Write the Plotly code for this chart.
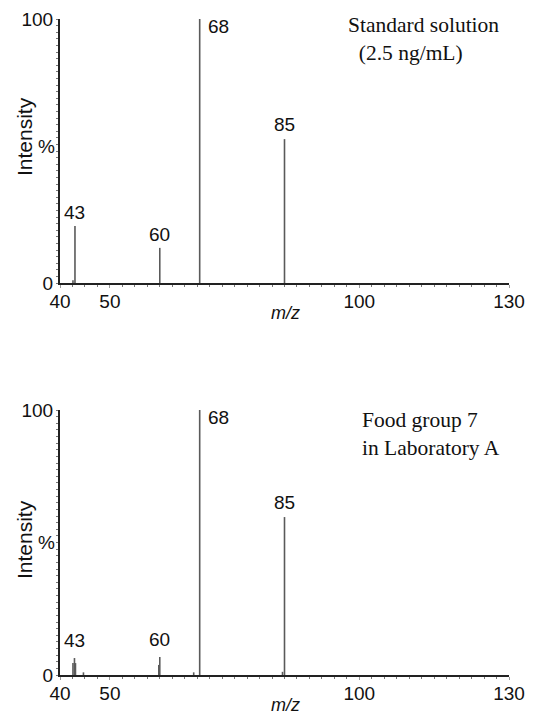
import plotly.graph_objects as go

# ---- data ----
mz_std = [42.6, 43, 60, 68, 85]
int_std = [1.0, 21.6, 13.3, 100, 54.5]

mz_food = [42.6, 42.9, 43.1, 44.7, 59.8, 60, 66.8, 68, 84.6, 85]
int_food = [4.5, 6.4, 4.5, 1.0, 3.8, 6.8, 1.0, 100, 1.2, 59.6]

peak_labels = [43, 60, 68, 85]
x_ticks = [40, 50, 100, 130]
y_ticks = [0, 100]

titles = [["Standard solution", "&#160;&#160;(2.5 ng/mL)"],
          ["Food group 7", "in Laboratory A"]]

OFF = 8  # page body margin
W, H = 533 - OFF, 722 - OFF
FONT = "Liberation Sans, Arial, sans-serif"
SERIF = "Liberation Serif, Times New Roman, serif"
LINE_C = "#5a5a5a"


def px(x):
    return (x - OFF) / W


def py(y):
    return 1 - (y - OFF) / H


def stems(mz, inten):
    xs, ys = [], []
    for m, v in zip(mz, inten):
        xs += [m, m, None]
        ys += [0, v, None]
    return xs, ys


fig = go.Figure()

panels = [
    dict(mz=mz_std, inten=int_std, base=283, top=19, xa="x", ya="y",
         ylab=137, pct=147, lshift=1),
    dict(mz=mz_food, inten=int_food, base=675, top=410, xa="x2", ya="y2",
         ylab=540, pct=542, lshift=5),
]

x0_px, x1_px = 60, 509

annotations = []
for i, p in enumerate(panels):
    xs, ys = stems(p["mz"], p["inten"])
    fig.add_trace(go.Scatter(x=xs, y=ys, mode="lines",
                             line=dict(color=LINE_C, width=1.6),
                             xaxis=p["xa"], yaxis=p["ya"],
                             hoverinfo="skip", showlegend=False))
    ydom = [py(p["base"]), py(p["top"])]
    xdom = [px(x0_px), px(x1_px)]
    sfx = "" if i == 0 else "2"
    fig.update_layout(**{
        "xaxis" + sfx: dict(
            domain=xdom, range=[40, 130], anchor="y" + sfx,
            automargin=False,
            tickvals=x_ticks, ticktext=[str(t) for t in x_ticks],
            ticks="outside", ticklen=3, tickwidth=1, tickcolor="#999",
            showline=True, linecolor="#222", linewidth=2,
            showgrid=False, zeroline=False,
            tickfont=dict(family=FONT, size=19, color="#111"),
            ticklabelstandoff=-3,
            minor=dict(ticks="outside", dtick=2.5, ticklen=2,
                       tickcolor="#777", tickwidth=1),
        ),
        "yaxis" + sfx: dict(
            domain=ydom, range=[0, 100], anchor="x" + sfx,
            automargin=False,
            tickvals=y_ticks, ticktext=[str(t) for t in y_ticks],
            ticks="", showline=True, linecolor="#222", linewidth=2,
            showgrid=False, zeroline=False,
            tickfont=dict(family=FONT, size=19, color="#111"),
            ticklabelstandoff=1,
            minor=dict(ticks="outside", dtick=2.5, ticklen=2,
                       tickcolor="#777", tickwidth=1),
        ),
    })

    # peak labels
    for pk in peak_labels:
        v = max(val for m, val in zip(p["mz"], p["inten"]) if abs(m - pk) < 0.6)
        if pk == 68:
            annotations.append(dict(x=pk, y=v, xref=p["xa"], yref=p["ya"],
                                    text=str(pk), showarrow=False,
                                    xanchor="left", yanchor="top", xshift=6,
                                    yshift=5,
                                    font=dict(family=FONT, size=19, color="#111")))
        else:
            annotations.append(dict(x=pk, y=v, xref=p["xa"], yref=p["ya"],
                                    text=str(pk), showarrow=False,
                                    xanchor="center", yanchor="bottom",
                                    yshift=p["lshift"] if pk != 85 else 2,
                                    font=dict(family=FONT, size=19, color="#111")))

    annotations.append(dict(x=px(24), y=py(p["ylab"]), xref="paper", yref="paper",
                            text="Intensity", textangle=-90, showarrow=False,
                            xanchor="center", yanchor="middle",
                            font=dict(family=FONT, size=21, color="#111")))
    annotations.append(dict(x=px(46), y=py(p["pct"]), xref="paper", yref="paper",
                            text="%", showarrow=False,
                            xanchor="center", yanchor="middle",
                            font=dict(family=FONT, size=19, color="#111")))
    annotations.append(dict(x=px(285), y=py(p["base"] + 30),
                            xref="paper", yref="paper",
                            text="<i>m/z</i>", showarrow=False,
                            xanchor="center", yanchor="middle",
                            font=dict(family=FONT, size=18, color="#111")))
    # panel title
    t0, t1 = titles[i]
    annotations.append(dict(x=px(346 if i == 0 else 360),
                            y=py(p["top"] + (20 if i == 0 else 24)),
                            xref="paper", yref="paper",
                            text=t0 + "<br>" + t1, showarrow=False, align="left",
                            xanchor="left", yanchor="middle",
                            font=dict(family=SERIF, size=21.5, color="#111")))

fig.update_layout(
    width=W, height=H,
    margin=dict(l=0, r=0, t=0, b=0),
    paper_bgcolor="white", plot_bgcolor="white",
    annotations=annotations,
)

fig.write_html("out.html")
